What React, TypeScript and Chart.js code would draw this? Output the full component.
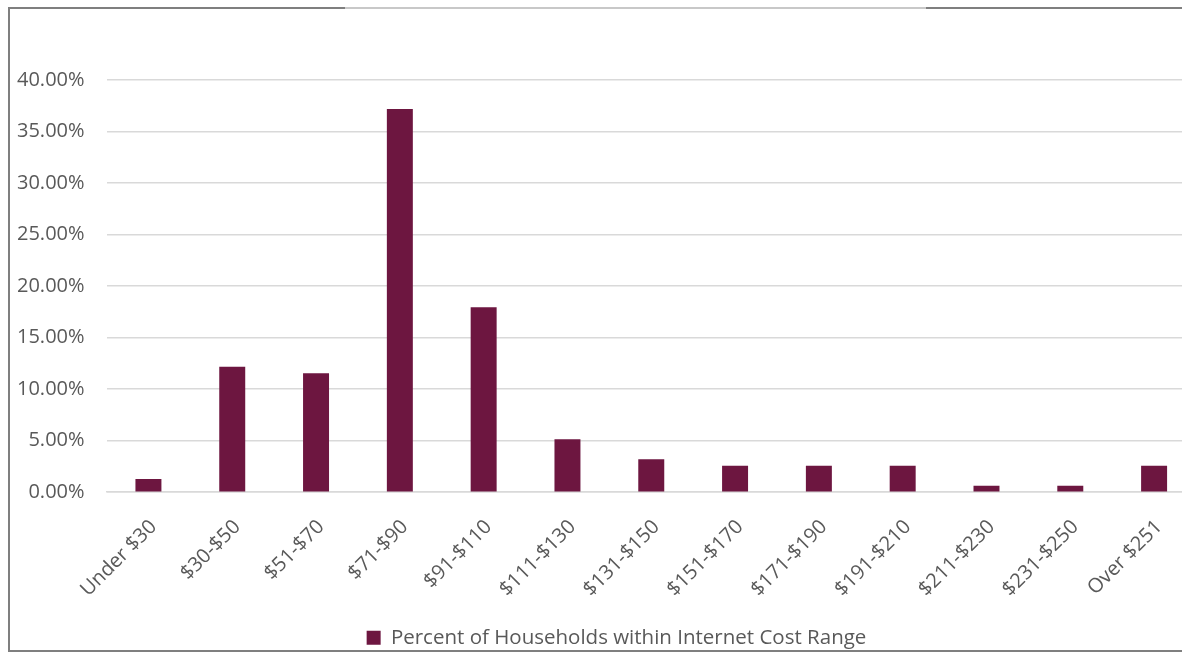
import React, { useEffect, useRef } from "react";
import { Chart, registerables } from "chart.js";

Chart.register(...registerables);

const categories: string[] = [
  "Under $30",
  "$30-$50",
  "$51-$70",
  "$71-$90",
  "$91-$110",
  "$111-$130",
  "$131-$150",
  "$151-$170",
  "$171-$190",
  "$191-$210",
  "$211-$230",
  "$231-$250",
  "Over $251",
];

const percentValues: number[] = [
  1.28, 12.18, 11.54, 37.18, 17.95, 5.13, 3.21, 2.56, 2.56, 2.56, 0.64, 0.64, 2.56,
];

const seriesLabel = "Percent of Households within Internet Cost Range";

const yTickValues: number[] = [0, 5, 10, 15, 20, 25, 30, 35, 40];

const BAR_COLOR = "#6D1640";
const TEXT_COLOR = "#595959";
const GRID_COLOR = "#D9D9D9";
const FONT = "'Open Sans', 'Noto Sans', sans-serif";

export default function App() {
  const canvasRef = useRef<HTMLCanvasElement | null>(null);

  useEffect(() => {
    if (!canvasRef.current) return;
    const chart = new Chart(canvasRef.current, {
      type: "bar",
      data: {
        labels: categories,
        datasets: [
          {
            label: seriesLabel,
            data: percentValues,
            backgroundColor: BAR_COLOR,
            borderWidth: 0,
            barPercentage: 0.31,
            categoryPercentage: 1,
          },
        ],
      },
      options: {
        animation: false,
        responsive: false,
        maintainAspectRatio: false,
        layout: { padding: { left: 8, right: 3, top: 72, bottom: 4 } },
        plugins: {
          tooltip: { enabled: false },
          legend: {
            position: "bottom",
            labels: {
              color: TEXT_COLOR,
              font: { family: FONT, size: 20.5 },
              boxWidth: 14,
              boxHeight: 14,
              padding: 13,
            },
          },
        },
        scales: {
          x: {
            afterFit: (axis: any) => {
              axis.paddingLeft = 0;
              axis.paddingRight = 23;
              axis.height = axis.height - 10;
            },
            grid: { display: false, drawTicks: false },
            border: { display: true, color: GRID_COLOR, width: 1.5 },
            ticks: {
              color: TEXT_COLOR,
              font: { family: FONT, size: 20 },
              minRotation: 45,
              maxRotation: 45,
              padding: 23,
              labelOffset: 5,
              autoSkip: false,
            },
          },
          y: {
            min: 0,
            max: 40,
            afterBuildTicks: (axis: any) => {
              axis.ticks = yTickValues.map((v) => ({ value: v }));
            },
            afterFit: (axis: any) => {
              axis.width = axis.width - 22;
            },
            grid: { color: GRID_COLOR, lineWidth: 1.5, drawTicks: false },
            border: { display: false },
            ticks: {
              color: TEXT_COLOR,
              font: { family: FONT, size: 20 },
              padding: 22,
              callback: (v: any) => `${Number(v).toFixed(2)}%`,
            },
          },
        },
      },
    });
    return () => chart.destroy();
  }, []);

  const dark = "#7F7F7F";
  const light = "#C8C8C8";

  return (
    <div
      style={{
        position: "fixed",
        left: 0,
        top: 0,
        width: 1182,
        height: 652,
        overflow: "hidden",
        background: "#FFFFFF",
      }}
    >
      <canvas
        ref={canvasRef}
        width={1210}
        height={654}
        style={{ position: "absolute", left: 9, top: 8, width: 1210, height: 654 }}
      />
      <div style={{ position: "absolute", left: 8, top: 7, width: 337, height: 1.5, background: dark }} />
      <div style={{ position: "absolute", left: 345, top: 7, width: 581, height: 1.5, background: light }} />
      <div style={{ position: "absolute", left: 926, top: 7, width: 256, height: 1.5, background: dark }} />
      <div style={{ position: "absolute", left: 8, top: 7, width: 1.5, height: 644, background: dark }} />
      <div style={{ position: "absolute", left: 8, top: 650, width: 1174, height: 1.5, background: dark }} />
    </div>
  );
}
